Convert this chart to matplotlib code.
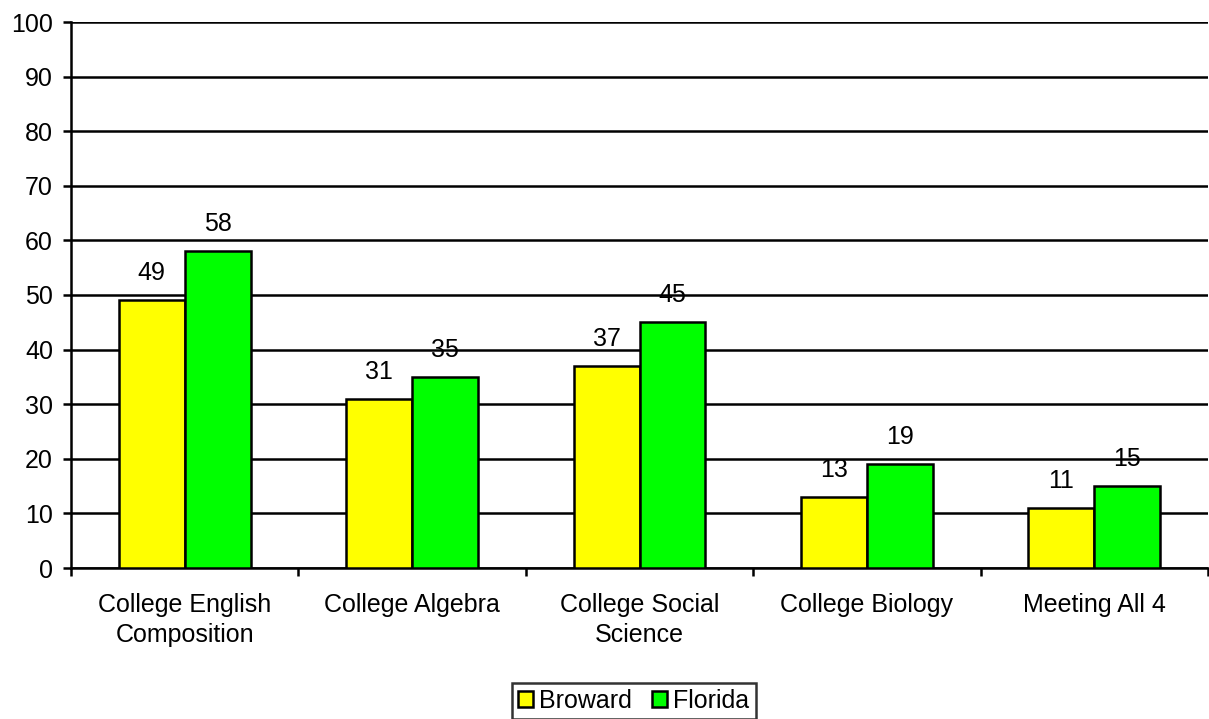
import matplotlib.pyplot as plt
import numpy as np

categories = ['College English\nComposition', 'College Algebra', 'College Social\nScience',
              'College Biology', 'Meeting All 4']
broward = [49, 31, 37, 13, 11]
florida = [58, 35, 45, 19, 15]

plt.rcParams['font.family'] = ['Liberation Sans', 'DejaVu Sans']
fs = 18

fig = plt.figure(figsize=(12.09, 7.19), dpi=100)
ax = fig.add_axes([71 / 1209, 1 - 568 / 719, 1137 / 1209, 546 / 719])

x = np.arange(len(categories)) + 0.5
w = 0.29
b1 = ax.bar(x - w / 2, broward, w, color='#ffff00', edgecolor='black', linewidth=1.8, label='Broward', zorder=3)
b2 = ax.bar(x + w / 2, florida, w, color='#00ff00', edgecolor='black', linewidth=1.8, label='Florida', zorder=3)

for bars, vals in ((b1, broward), (b2, florida)):
    for r, v in zip(bars, vals):
        ax.annotate(str(v), (r.get_x() + r.get_width() / 2, v), xytext=(0, 14.5),
                    textcoords='offset points', ha='center', va='baseline', fontsize=fs, zorder=1)

ax.set_xlim(0, 5)
ax.set_ylim(0, 100)
ax.set_yticks(range(0, 101, 10))
ax.yaxis.grid(True, color='black', linewidth=1.8, zorder=0)
ax.set_xticks(range(0, 6))
ax.set_xticklabels([])
ax.set_xticks(x, minor=True)
ax.set_xticklabels(categories, minor=True, fontsize=fs, linespacing=1.3)
ax.tick_params(axis='x', which='minor', length=0, pad=18)
ax.tick_params(axis='x', which='major', length=6, width=1.8, direction='out')
ax.tick_params(axis='y', length=6, width=1.8, labelsize=fs, pad=7)
for s in ('top', 'right'):
    ax.spines[s].set_visible(False)
for s in ('left', 'bottom'):
    ax.spines[s].set_linewidth(1.8)

leg = fig.legend(handles=[b1, b2], loc='lower center', bbox_to_anchor=(0.524, 0.0), ncol=2,
                 fontsize=fs, frameon=True, fancybox=False, edgecolor='black',
                 handlelength=0.6, handleheight=0.6, handletextpad=0.25, columnspacing=0.8,
                 borderpad=0.25, borderaxespad=0)
leg.get_frame().set_linewidth(1.8)

fig.savefig('out.png', dpi=100)
